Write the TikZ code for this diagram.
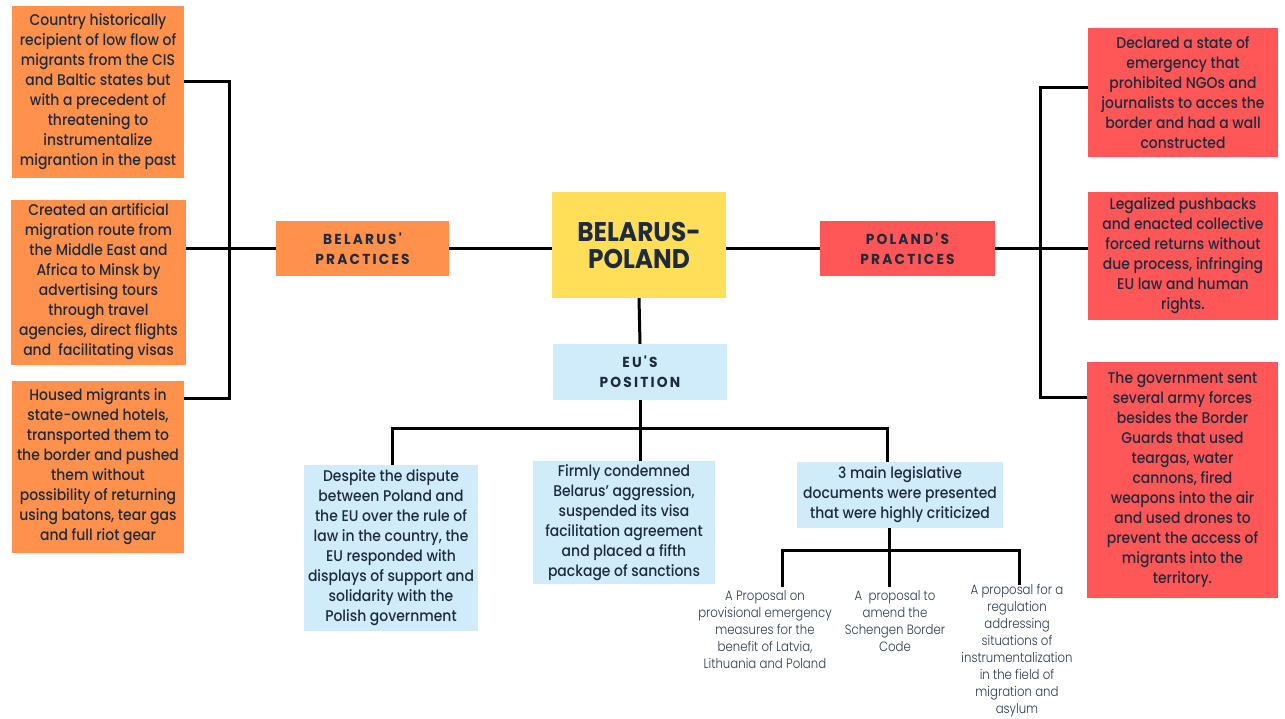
\documentclass[tikz,border=0pt]{standalone}
\usepackage{fontspec}
\setmainfont{Poppins Medium}[FakeStretch=0.9]
\newfontfamily\headfont{Poppins}[FakeStretch=0.95,LetterSpace=15]
\newfontfamily\titlefont{Poppins}[FakeStretch=0.92]
\newfontfamily\notefont{Poppins Light}[FakeStretch=0.87]
\definecolor{ink}{HTML}{1D2B3C}
\definecolor{noteink}{HTML}{2B3A4C}
\definecolor{borange}{HTML}{FF914D}
\definecolor{pred}{HTML}{FF5757}
\definecolor{cyellow}{HTML}{FFDE59}
\definecolor{eublue}{HTML}{D0EBFA}
\tikzset{
  box/.style={inner sep=0pt, align=center, text=ink, font=\fontsize{15.5}{20}\selectfont},
  obox/.style={box, fill=borange},
  rbox/.style={box, fill=pred},
  ubox/.style={box, fill=eublue},
  headbox/.style={inner sep=0pt, align=center, text=ink, font=\headfont\bfseries\fontsize{14.5}{20}\selectfont},
  note/.style={inner sep=0pt, align=center, text=noteink, font=\notefont\fontsize{13.5}{17}\selectfont},
  link/.style={line width=3pt, draw=black},
}

\begin{document}
\begin{tikzpicture}[x=1pt, y=-1pt]
  %%%%% START %%%%%
  \useasboundingbox (0,0) rectangle (1285,718);

  % centre
  \node[inner sep=0pt, align=center, fill=cyellow, text=ink, minimum width=174pt, minimum height=106pt,
        font=\titlefont\bfseries\fontsize{27}{27}\selectfont] (bp) at (639,245) {BELARUS-\\POLAND};

  % Belarus side
  \node[headbox, fill=borange, minimum width=173pt, minimum height=55pt] (belprac) at (362.5,248.5) {BELARUS'\\PRACTICES};
  \node[obox, minimum width=172pt, minimum height=172pt] (bel1) at (98,92) {Country historically\\recipient of low flow of\\migrants from the CIS\\and Baltic states but\\with a precedent of\\threatening to\\instrumentalize\\migrantion in the past};
  \node[obox, minimum width=175pt, minimum height=165pt] (bel2) at (98.5,282) {Created an artificial\\migration route from\\the Middle East and\\Africa to Minsk by\\advertising tours\\through travel\\agencies, direct flights\\and\ \ facilitating visas};
  \node[obox, minimum width=172pt, minimum height=172pt] (bel3) at (98,467) {Housed migrants in\\state-owned hotels,\\transported them to\\the border and pushed\\them without\\possibility of returning\\using batons, tear gas\\and full riot gear};

  % Poland side
  \node[headbox, fill=pred, minimum width=175pt, minimum height=55pt] (polprac) at (907.5,248.5) {POLAND'S\\PRACTICES};
  \node[rbox, minimum width=190pt, minimum height=129pt] (pol1) at (1183,92.5) {Declared a state of\\emergency that\\prohibited NGOs and\\journalists to acces the\\border and had a wall\\constructed};
  \node[rbox, minimum width=190pt, minimum height=128pt] (pol2) at (1183,256) {Legalized pushbacks\\and enacted collective\\forced returns without\\due process, infringing\\EU law and human\\rights.};
  \node[rbox, minimum width=191pt, minimum height=236pt] (pol3) at (1182.5,480) {The government sent\\several army forces\\besides the Border\\Guards that used\\teargas, water\\cannons, fired\\weapons into the air\\and used drones to\\prevent the access of\\migrants into the\\territory.};

  % EU
  \node[headbox, fill=eublue, minimum width=174pt, minimum height=56pt] (eupos) at (640,372) {EU'S\\POSITION};
  \node[ubox, minimum width=174pt, minimum height=166pt] (eu1) at (391,548) {Despite the dispute\\between Poland and\\the EU over the rule of\\law in the country, the\\EU responded with\\displays of support and\\solidarity with the\\Polish government};
  \node[ubox, minimum width=182pt, minimum height=123pt] (eu2) at (624,522.5) {Firmly condemned\\Belarus' aggression,\\suspended its visa\\facilitation agreement\\and placed a fifth\\package of sanctions};
  \node[ubox, minimum width=206pt, minimum height=66pt] (eu3) at (900,495) {3 main legislative\\documents were presented\\that were highly criticized};

  \node[note, anchor=north] (doc1) at (765,590) {A Proposal on\\provisional emergency\\measures for the\\benefit of Latvia,\\Lithuania and Poland};
  \node[note, anchor=north] (doc2) at (895,590) {A\ \ proposal to\\amend the\\Schengen Border\\Code};
  \node[note, anchor=north] (doc3) at (1017,584) {A proposal for a\\regulation\\addressing\\situations of\\instrumentalization\\in the field of\\migration and\\asylum};

  % connectors
  \coordinate (ltop) at (229,81);
  \coordinate (lbot) at (229,398);
  \draw[link] (bel1.east |- ltop) -- (ltop) -- (lbot) -- (bel3.east |- lbot);
  \draw[link] (bel2.east |- belprac.west) -- (belprac.west);
  \draw[link] (belprac.east) -- (bp.west |- belprac.east);

  \coordinate (rtop) at (1040,87);
  \coordinate (rbot) at (1040,397);
  \draw[link] (pol1.west |- rtop) -- (rtop) -- (rbot) -- (pol3.west |- rbot);
  \draw[link] (polprac.east) -- (pol2.west |- polprac.east);
  \draw[link] (bp.east |- polprac.west) -- (polprac.west);

  \draw[link] (bp.south) -- (eupos.north);

  \coordinate (eubar) at (640,428);
  \coordinate (eu1in) at (392,465);
  \coordinate (eu3in) at (887,462);
  \draw[link] (eupos.south) -- (eupos.south |- eu2.north);
  \draw[link] (eu1in) |- (eubar) -| (eu3in);

  \coordinate (docbar) at (889,550);
  \coordinate (doc1in) at (782,587);
  \coordinate (doc3in) at (1019,585);
  \draw[link] (eu3.south -| docbar) -- (docbar |- doc1in);
  \draw[link] (doc1in) |- (docbar) -| (doc3in);
  %%%%% END %%%%%
\end{tikzpicture}
\end{document}
